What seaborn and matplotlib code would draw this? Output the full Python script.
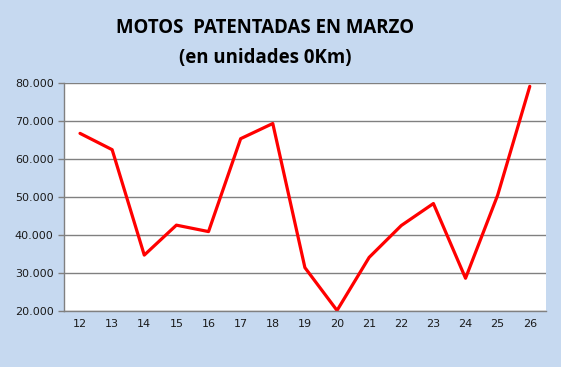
import matplotlib
matplotlib.use("Agg")
import matplotlib.pyplot as plt
import seaborn as sns
import pandas as pd
from matplotlib.ticker import FuncFormatter, FixedLocator

# days of March and registered motorbikes (0Km units)
dias = [12, 13, 14, 15, 16, 17, 18, 19, 20, 21, 22, 23, 24, 25, 26]
motos = [66800, 62500, 34700, 42600, 40900, 65400, 69400, 31400,
         20100, 34100, 42500, 48300, 28600, 50500, 79200]

BG = "#C6D9F0"

df = pd.DataFrame({"dia": dias, "motos": motos})

sns.set_style("white")
plt.rcParams["font.family"] = ["DejaVu Sans"]

fig = plt.figure(figsize=(5.61, 3.67), dpi=100, facecolor=BG)
ax = fig.add_axes([0.114, 0.153, 0.859, 0.620])
ax.set_facecolor("white")

sns.lineplot(data=df, x="dia", y="motos", color="#FF0000", linewidth=2.3, ax=ax)

ax.set_xlim(dias[0] - 0.5, dias[-1] + 0.5)
ax.set_ylim(20000, 80000)
ax.set_xticks(dias)
ax.set_xticklabels([str(d) for d in dias])
ax.xaxis.set_minor_locator(FixedLocator([d - 0.5 for d in dias] + [dias[-1] + 0.5]))
ax.tick_params(axis="x", which="major", length=0, pad=6, labelsize=8, colors="#1a1a1a")
ax.tick_params(axis="x", which="minor", length=4, width=1, color="#808080", direction="out")
ax.set_yticks(range(20000, 80001, 10000))
ax.yaxis.set_major_formatter(FuncFormatter(lambda v, _: f"{v:,.0f}".replace(",", ".")))
ax.tick_params(axis="y", length=4, width=1, color="#808080", direction="out",
               labelsize=8, colors="#1a1a1a", left=True)
ax.grid(axis="y", color="#808080", linewidth=1)
ax.set_axisbelow(True)

for side in ["top", "right"]:
    ax.spines[side].set_visible(False)
for side in ["left", "bottom"]:
    ax.spines[side].set_color("#808080")
    ax.spines[side].set_linewidth(1)

ax.set_xlabel("")
ax.set_ylabel("")

fig.text(0.473, 0.925, "MOTOS  PATENTADAS EN MARZO", ha="center", va="center",
         fontsize=13.4, fontweight="bold", family="Open Sans", color="black")
fig.text(0.473, 0.843, "(en unidades 0Km)", ha="center", va="center",
         fontsize=13.4, fontweight="bold", family="Open Sans", color="black")

fig.savefig("out.png", dpi=100, facecolor=BG)
